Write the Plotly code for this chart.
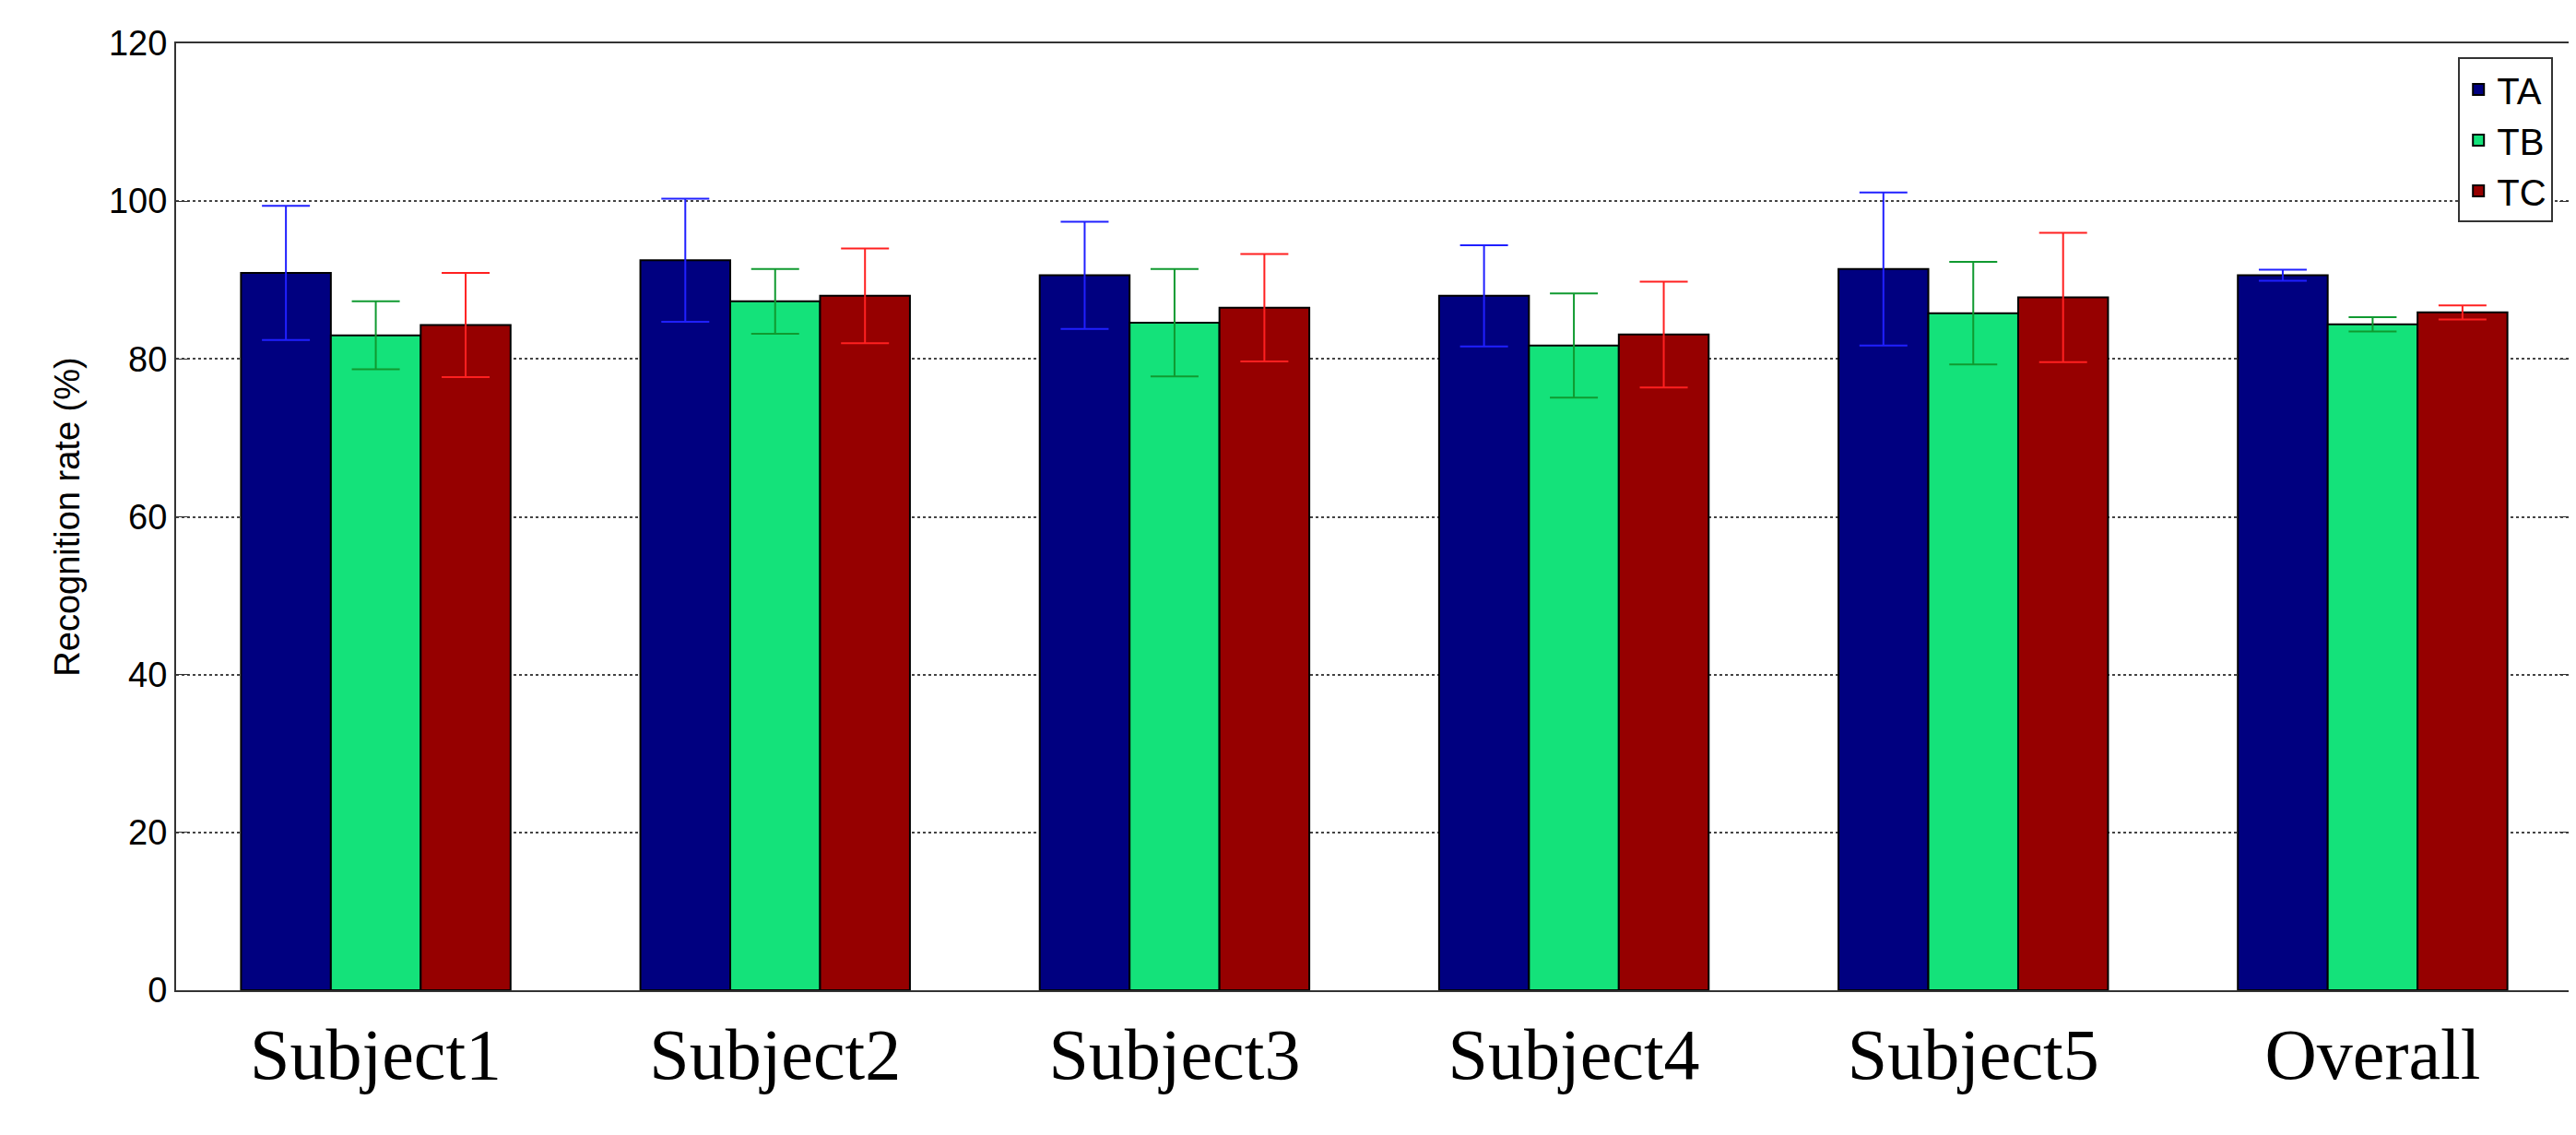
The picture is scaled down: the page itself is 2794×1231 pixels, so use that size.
import plotly.graph_objects as go

categories = ["Subject1", "Subject2", "Subject3", "Subject4", "Subject5", "Overall"]
ta = [90.9, 92.5, 90.6, 88.0, 91.4, 90.6]
ta_err = [8.5, 7.8, 6.8, 6.4, 9.7, 0.7]
tb = [83.0, 87.3, 84.6, 81.7, 85.8, 84.4]
tb_err = [4.3, 4.1, 6.8, 6.6, 6.5, 0.9]
tc = [84.3, 88.0, 86.5, 83.1, 87.8, 85.9]
tc_err = [6.6, 6.0, 6.8, 6.7, 8.2, 0.9]

series = [("TA", ta, ta_err, "#000080", "#2020ff"),
          ("TB", tb, tb_err, "#14e27a", "#109a30"),
          ("TC", tc, tc_err, "#960000", "#ff2020")]

fig = go.Figure()
for name, vals, errs, col, ecol in series:
    fig.add_trace(go.Bar(
        x=categories, y=vals, name=name, marker_color=col,
        marker_line=dict(color="black", width=2),
        error_y=dict(type="data", array=errs, color=ecol, thickness=2, width=26),
    ))

fig.update_layout(
    width=2794, height=1231, barmode="group", bargap=0.325, bargroupgap=0,
    plot_bgcolor="white", paper_bgcolor="white",
    margin=dict(l=183, r=10, t=39, b=165),
    font=dict(family="Arial", color="black"),
    legend=dict(x=0.992, y=0.985, xanchor="right", yanchor="top",
                bordercolor="#333", borderwidth=2, font=dict(size=40),
                traceorder="normal"),
)
fig.update_xaxes(showline=True, linecolor="#333", linewidth=2, mirror=True,
                 tickfont=dict(family="Times New Roman, Liberation Serif", size=78),
                 ticks="")
fig.update_yaxes(range=[0, 120], dtick=20, showline=True, linecolor="#333",
                 linewidth=2, mirror="ticks", ticks="inside", ticklen=14,
                 tickcolor="#333", tickfont=dict(size=38),
                 showgrid=True, gridcolor="#444", griddash="dot", gridwidth=1.5,
                 title=dict(text="Recognition rate (%)", font=dict(size=38), standoff=20))

fig.write_html("out.html")
